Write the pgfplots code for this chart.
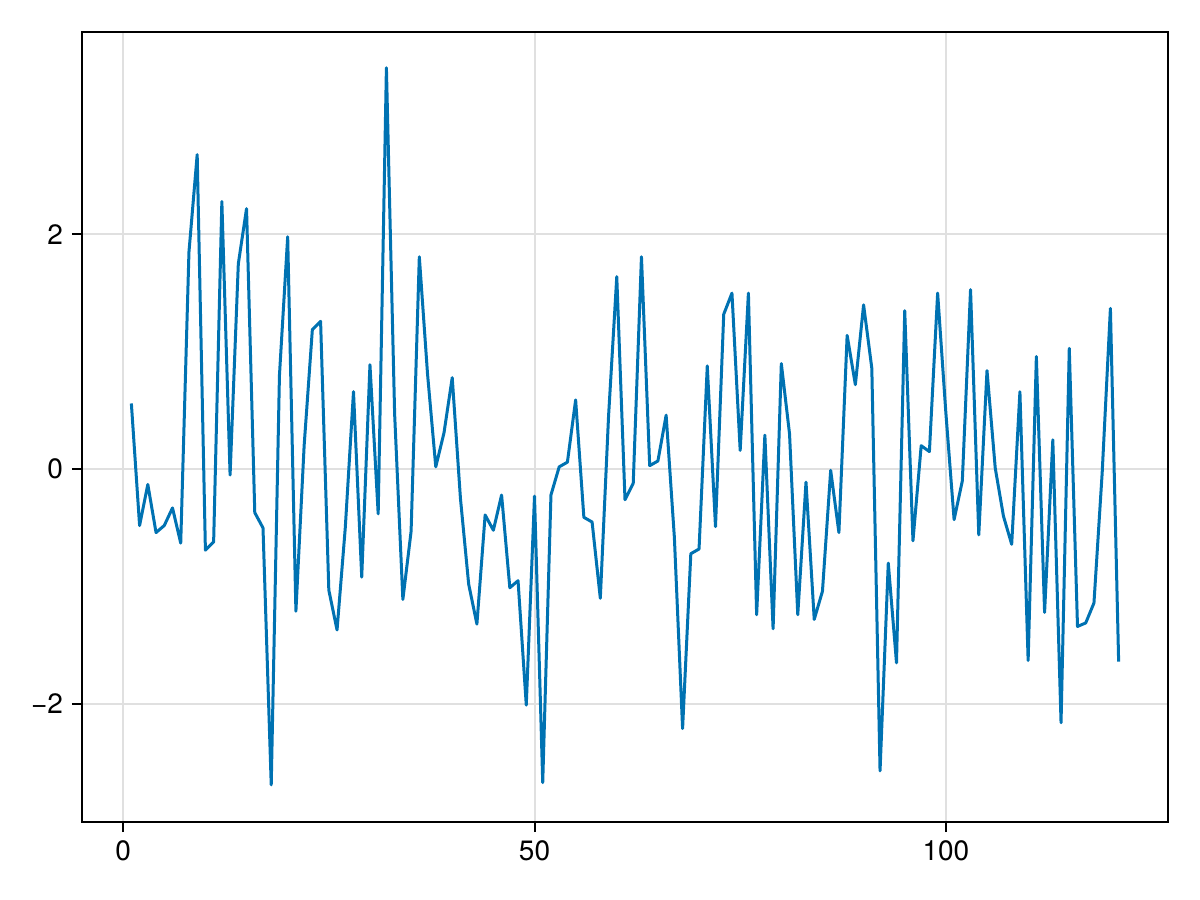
\documentclass[border=0pt]{standalone}
\usepackage{fontspec}
\setmainfont{TeX Gyre Heros}
\usepackage{pgfplots}
\pgfplotsset{compat=1.18}
\definecolor{wongblue}{RGB}{0,114,178}

\begin{document}
\begin{tikzpicture}
\path[use as bounding box] (-41pt,-39pt) rectangle (559pt,411pt);
\begin{axis}[
    scale only axis,
    width=543pt, height=395pt,
    at={(0,0)}, anchor=south west,
    xmin=-5, xmax=127,
    ymin=-3.006, ymax=3.725,
    xtick={0,50,100},
    ytick={-2,0,2},
    yticklabels={−2,0,2},
    tick align=outside,
    major tick length=5pt,
    tick style={black, line width=1pt},
    xtick pos=bottom, ytick pos=left,
    axis line style={black, line width=1pt},
    xmajorgrids=true, ymajorgrids=true,
    grid style={black!12, line width=1pt},
    /pgf/number format/assume math mode=true,
    ticklabel style={font=\fontsize{14pt}{16pt}\selectfont},
    xticklabel style={yshift=-1pt},
    yticklabel style={xshift=-1pt},
]
\addplot[wongblue, line width=1.5pt, line join=round, mark=none] coordinates {
(1,0.56) (2,-0.48) (3,-0.13) (4,-0.54) (5,-0.48) (6,-0.33) (7,-0.63) (8,1.85)
(9,2.68) (10,-0.69) (11,-0.62) (12,2.28) (13,-0.05) (14,1.75) (15,2.22) (16,-0.37)
(17,-0.50) (18,-2.69) (19,0.80) (20,1.98) (21,-1.21) (22,0.20) (23,1.19) (24,1.26)
(25,-1.03) (26,-1.37) (27,-0.50) (28,0.66) (29,-0.92) (30,0.89) (31,-0.38) (32,3.42)
(33,0.47) (34,-1.11) (35,-0.53) (36,1.81) (37,0.81) (38,0.02) (39,0.31) (40,0.78)
(41,-0.25) (42,-0.98) (43,-1.32) (44,-0.39) (45,-0.52) (46,-0.22) (47,-1.01) (48,-0.95)
(49,-2.01) (50,-0.23) (51,-2.67) (52,-0.22) (53,0.02) (54,0.06) (55,0.59) (56,-0.41)
(57,-0.45) (58,-1.10) (59,0.45) (60,1.64) (61,-0.26) (62,-0.12) (63,1.81) (64,0.03)
(65,0.07) (66,0.46) (67,-0.58) (68,-2.21) (69,-0.72) (70,-0.68) (71,0.88) (72,-0.49)
(73,1.32) (74,1.50) (75,0.16) (76,1.50) (77,-1.24) (78,0.29) (79,-1.36) (80,0.90)
(81,0.30) (82,-1.24) (83,-0.11) (84,-1.28) (85,-1.04) (86,-0.01) (87,-0.54) (88,1.14)
(89,0.72) (90,1.40) (91,0.86) (92,-2.57) (93,-0.80) (94,-1.65) (95,1.35) (96,-0.61)
(97,0.20) (98,0.15) (99,1.50) (100,0.48) (101,-0.43) (102,-0.10) (103,1.53) (104,-0.56)
(105,0.84) (106,0.01) (107,-0.40) (108,-0.64) (109,0.66) (110,-1.63) (111,0.96) (112,-1.22)
(113,0.25) (114,-2.16) (115,1.03) (116,-1.34) (117,-1.31) (118,-1.14) (119,-0.03) (120,1.37)
(121,-1.64)
};
\end{axis}
\end{tikzpicture}
\end{document}
